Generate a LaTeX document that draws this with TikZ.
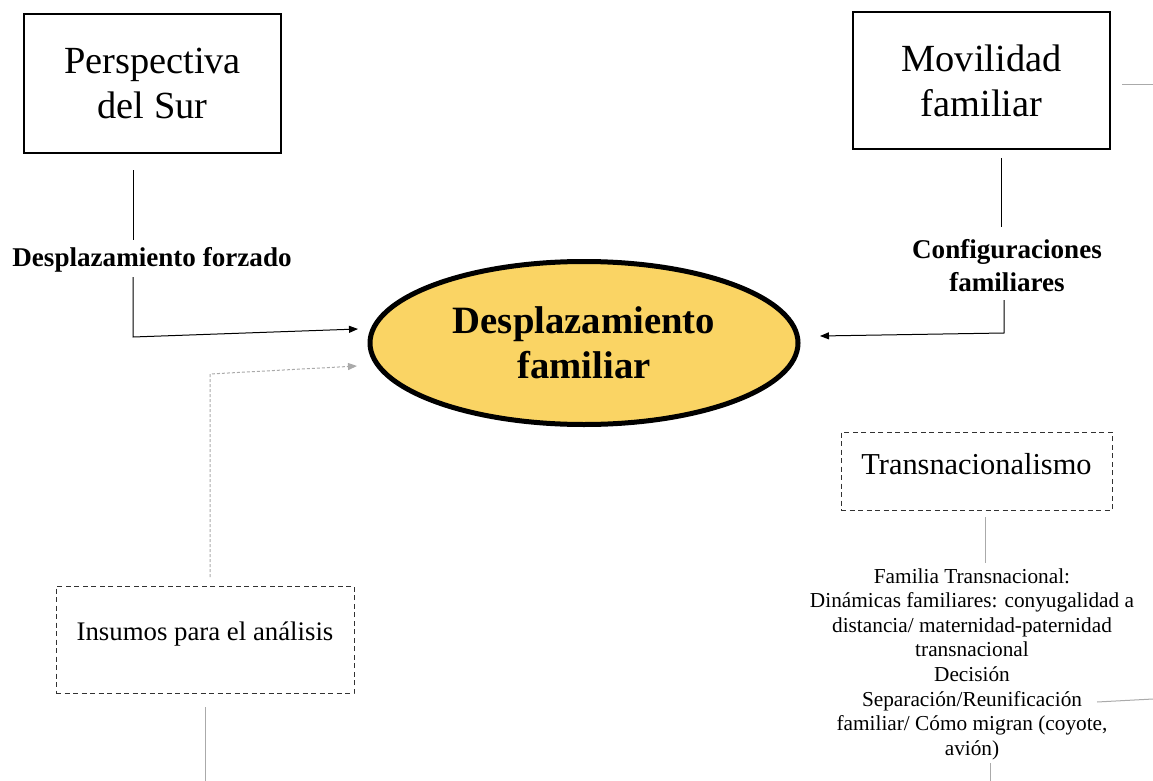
\documentclass[tikz,border=0pt]{standalone}
\usepackage{fontspec}
\setmainfont{Liberation Serif}
\usetikzlibrary{arrows.meta,shapes.geometric}
\definecolor{ellfill}{RGB}{250,212,100}
\definecolor{lgray}{RGB}{170,170,170}
\definecolor{dgray}{RGB}{50,50,50}
\tikzset{
  solidbox/.style={draw=black,line width=1.6pt,align=center,inner sep=0pt,font=\fontsize{38.4}{45}\selectfont},
  dashbox/.style={draw=dgray,line width=1pt,dash pattern=on 5pt off 3.5pt,align=center,inner sep=0pt},
  lbl/.style={align=center,inner sep=0pt,font=\bfseries\fontsize{27.1}{33}\selectfont},
  body/.style={align=center,inner sep=0pt,font=\fontsize{21.3}{24.6}\selectfont},
  conn/.style={draw=black,line width=1pt},
  arr/.style={conn,-{Triangle[length=9pt,width=7pt]}},
  gconn/.style={draw=lgray,line width=1pt},
  garr/.style={draw=lgray,line width=1pt,dash pattern=on 3pt off 2pt,-{Triangle[length=9pt,width=7pt]}},
}
\begin{document}
\begin{tikzpicture}[x=1pt,y=-1pt]
\useasboundingbox (0,0) rectangle (1153,781);
% boxes
\node[solidbox,minimum width=257pt,minimum height=139pt] (ps) at (152.5,83.5) {Perspectiva\\del Sur};
\node[solidbox,minimum width=257pt,minimum height=137pt] (mf) at (981.5,80.5) {Movilidad\\familiar};
\node[ellipse,draw=black,line width=5pt,fill=ellfill,minimum width=428pt,minimum height=163pt,inner sep=0pt,align=center,font=\bfseries\fontsize{38.7}{45}\selectfont] (df) at (584,343) {Desplazamiento\\familiar};
\node[dashbox,minimum width=298pt,minimum height=107pt,text depth=16pt,font=\fontsize{26.8}{30}\selectfont] (ins) at (205,639.5) {Insumos para el análisis};
\node[dashbox,minimum width=271pt,minimum height=78pt,text depth=14pt,font=\fontsize{30.4}{34}\selectfont] (tr) at (976.5,471) {Transnacionalismo};
% labels
\node[lbl] (lf) at (152,260) {Desplazamiento forzado};
\node[lbl] (lc) at (1007,266) {Configuraciones\\familiares};
\node[body] (ft) at (972,664) {Familia Transnacional:\\Dinámicas familiares: conyugalidad a\\distancia/ maternidad-paternidad\\transnacional\\Decisión\\Separación/Reunificación\\familiar/ Cómo migran (coyote,\\avión)};
% coordinates
\coordinate (a1) at (133,170); \coordinate (a2) at (133,240);
\coordinate (a3) at (133,277); \coordinate (a4) at (133,337); \coordinate (a5) at (358,329);
\coordinate (b1) at (1001,158); \coordinate (b2) at (1001,227);
\coordinate (b3) at (1004,300); \coordinate (b4) at (1004,333); \coordinate (b5) at (820,336);
\coordinate (g1) at (210,577); \coordinate (g2) at (210,374); \coordinate (g3) at (357,366);
\coordinate (i1) at (205,707); \coordinate (i2) at (205,781);
\coordinate (t1) at (985,517); \coordinate (t2) at (985,563);
\coordinate (s1) at (1097,702); \coordinate (s2) at (1153,699);
\coordinate (v1) at (990,763); \coordinate (v2) at (990,781);
\coordinate (m1) at (1122,85); \coordinate (m2) at (1153,85);
% connectors
\draw[conn] (a1) -- (a2);
\draw[arr] (a3) -- (a4) -- (a5);
\draw[conn] (b1) -- (b2);
\draw[arr] (b3) -- (b4) -- (b5);
\draw[garr] (g1) -- (g2) -- (g3);
\draw[gconn] (i1) -- (i2);
\draw[gconn] (t1) -- (t2);
\draw[gconn] (s1) -- (s2);
\draw[gconn] (v1) -- (v2);
\draw[gconn] (m1) -- (m2);
\end{tikzpicture}
\end{document}
